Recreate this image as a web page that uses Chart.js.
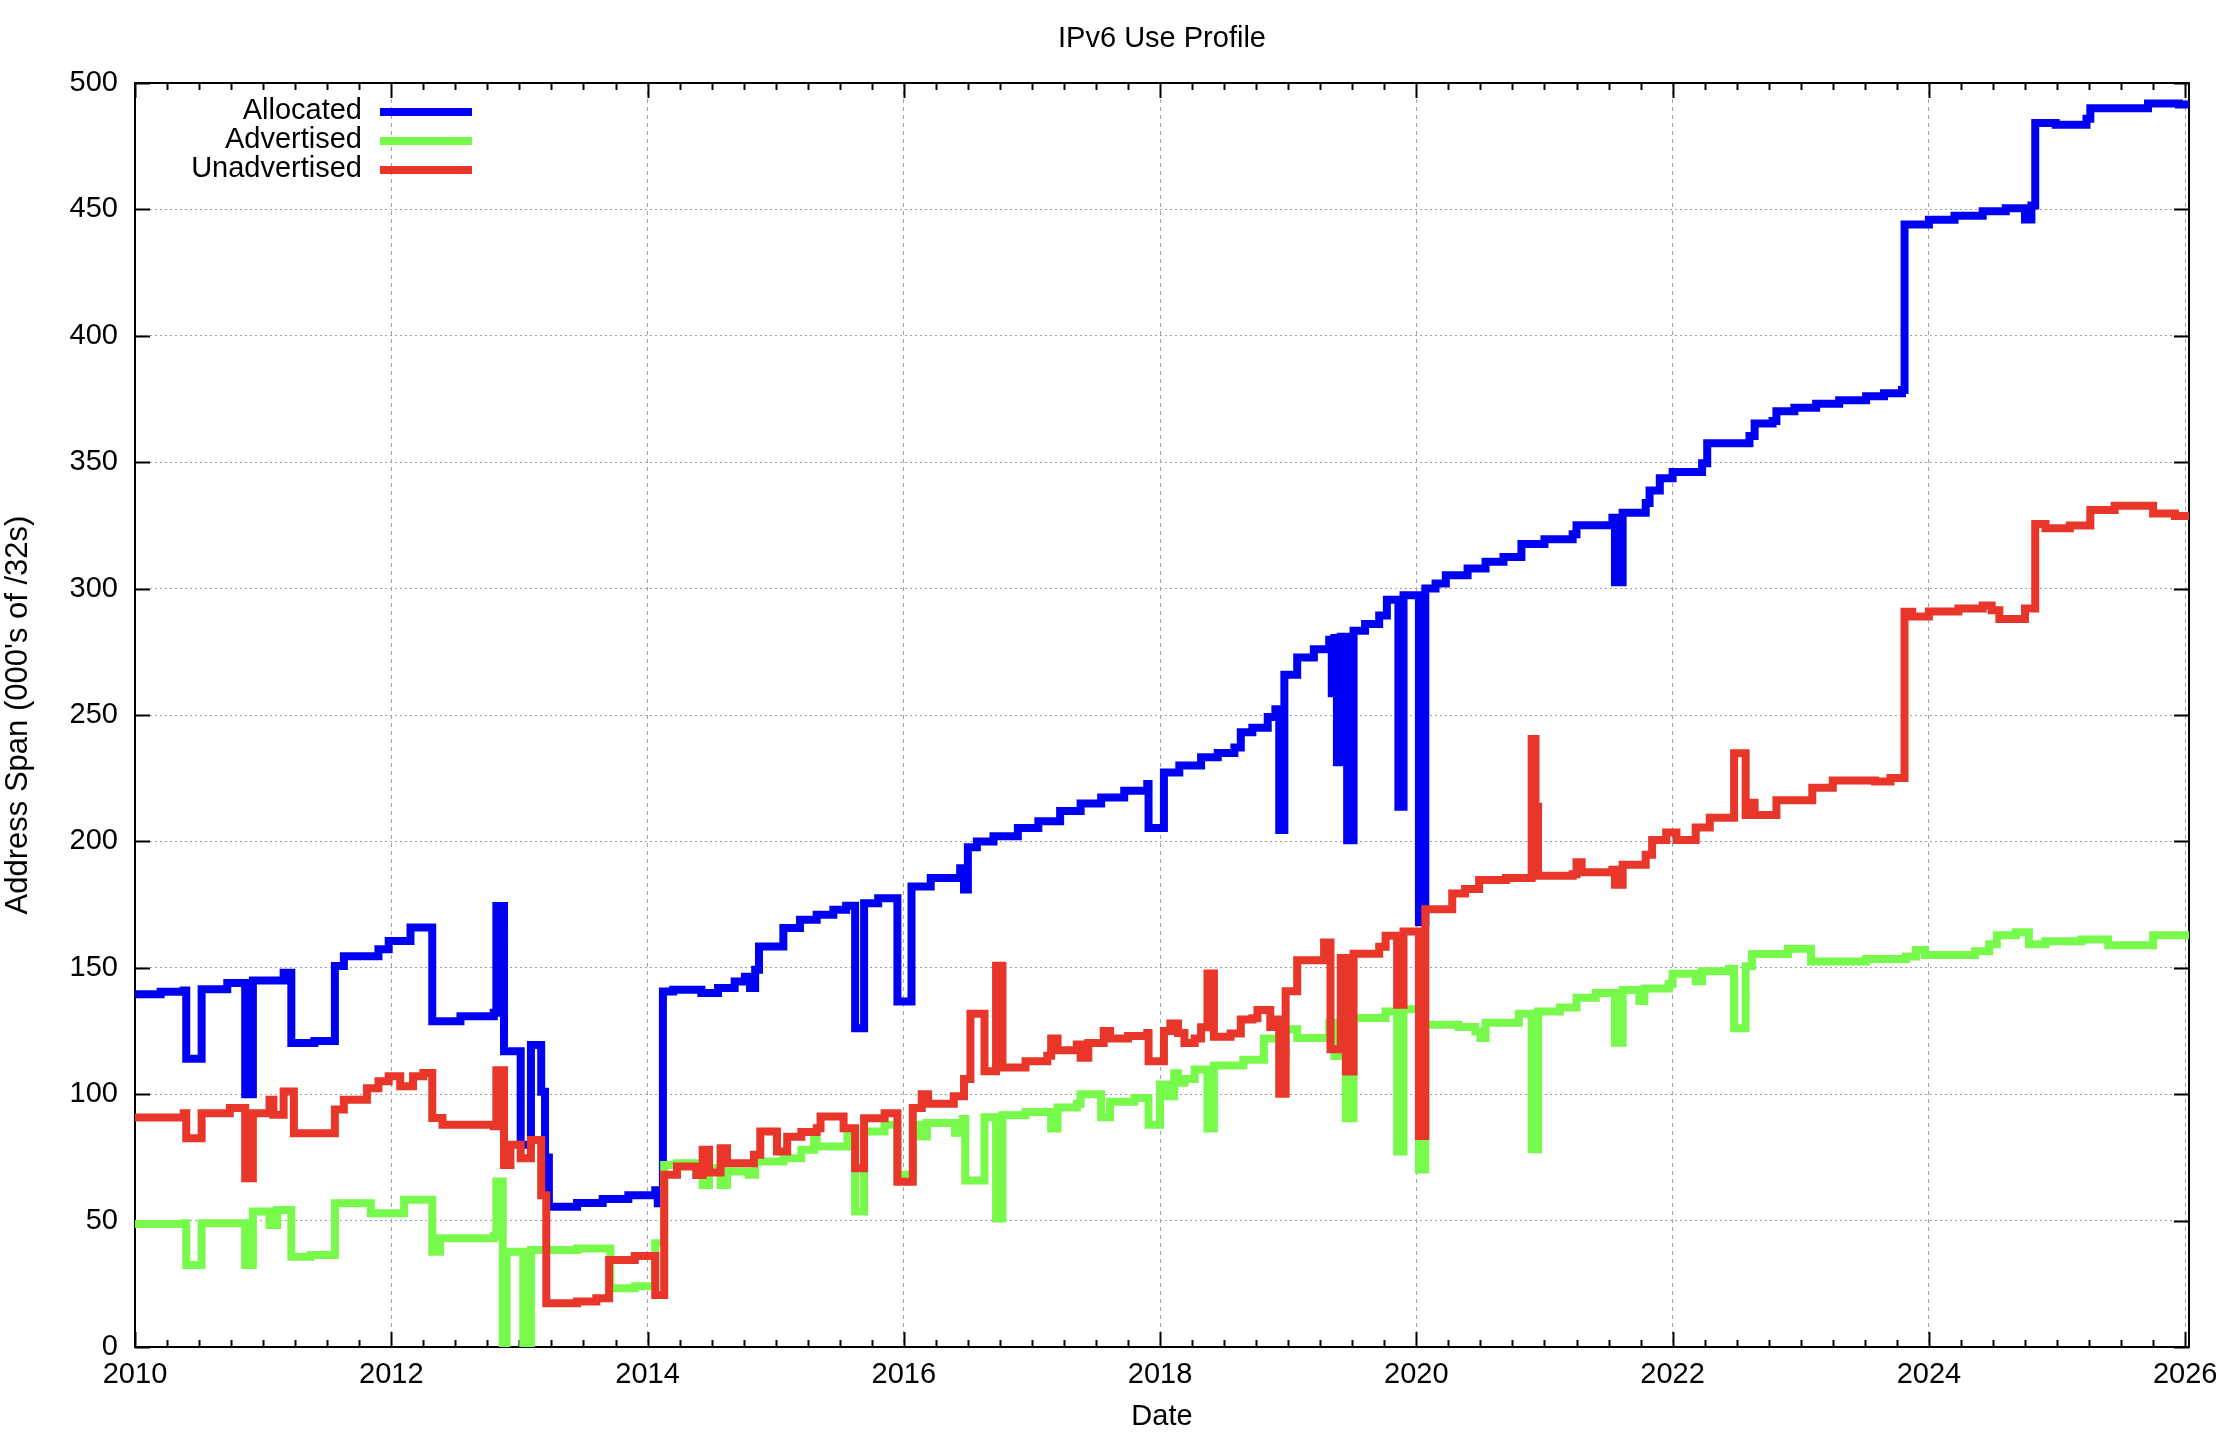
<!DOCTYPE html>
<html>
<head>
<meta charset="utf-8">
<title>IPv6 Use Profile</title>
<script src="https://cdn.jsdelivr.net/npm/chart.js@4.4.1/dist/chart.umd.min.js"></script>
<style>
  html, body { margin: 0; padding: 0; background: #fff; }
  canvas { display: block; }
</style>
</head>
<body>
<canvas id="myChart" width="2232" height="1434"></canvas>
<script>
// values, in decimal years and thousands of /32s
const allocDates = [2010.00,2010.20,2010.38,2010.40,2010.52,2010.72,2010.86,2010.92,2011.16,2011.22,2011.40,2011.56,2011.63,2011.90,2011.98,2012.15,2012.32,2012.54,2012.80,2012.82,2012.88,2013.01,2013.09,2013.17,2013.20,2013.23,2013.45,2013.65,2013.85,2014.06,2014.08,2014.12,2014.20,2014.42,2014.55,2014.68,2014.76,2014.80,2014.84,2014.87,2015.06,2015.19,2015.32,2015.45,2015.55,2015.62,2015.69,2015.80,2015.95,2016.06,2016.21,2016.44,2016.47,2016.50,2016.57,2016.70,2016.89,2017.05,2017.22,2017.38,2017.54,2017.72,2017.90,2017.91,2018.03,2018.15,2018.32,2018.45,2018.58,2018.63,2018.72,2018.84,2018.90,2018.93,2018.97,2019.07,2019.20,2019.32,2019.34,2019.36,2019.38,2019.41,2019.46,2019.51,2019.60,2019.71,2019.77,2019.86,2019.90,2020.02,2020.07,2020.15,2020.23,2020.40,2020.54,2020.68,2020.82,2021.00,2021.22,2021.25,2021.53,2021.55,2021.61,2021.79,2021.82,2021.90,2022.00,2022.23,2022.27,2022.60,2022.64,2022.78,2022.81,2022.95,2023.12,2023.30,2023.51,2023.65,2023.79,2023.81,2024.00,2024.20,2024.42,2024.60,2024.75,2024.80,2024.83,2024.99,2025.23,2025.26,2025.71,2025.95,2026.05];
const allocValues = [139.5,140.5,141,114,141.5,144,100,145,148,120.3,121,150.7,154.6,157.3,160.6,165.9,128.9,130.8,132.2,174.4,117,80,119.5,101,75,55.5,57,58.5,60,62,56.9,140.6,141.3,140,142,144.6,146.5,142,149.2,158.4,165.7,169,171,173,174.5,126.1,175.5,177.5,136.7,182.2,185.5,189.4,181,197.7,200,202,205.3,208,212,215,217.4,220,222.7,205.3,227.3,230,233.3,235,237.1,243.2,245,249.2,252.3,204.5,265.9,272.7,276,279.8,258.6,280.5,231.3,281,200.5,283.3,286,289.4,295.6,213.7,297.4,168,300,302,305.3,308,310.6,312.5,317.6,319.5,321.5,325.1,328,302.5,330,333.9,338.8,343.7,346.1,349.6,357.5,360.4,365.3,366.3,370.2,371.5,373.1,374.5,376.1,377.3,378.6,444,445.9,447.5,449.3,450.5,446,451.5,484.2,483.5,485.9,490,491.9,491.5,490.5];

const advDates = [2010.00,2010.38,2010.40,2010.52,2010.86,2010.92,2011.05,2011.11,2011.22,2011.37,2011.56,2011.84,2012.10,2012.32,2012.38,2012.80,2012.82,2012.87,2012.90,2013.03,2013.09,2013.45,2013.71,2013.90,2014.06,2014.13,2014.23,2014.42,2014.43,2014.48,2014.57,2014.62,2014.79,2014.84,2015.06,2015.20,2015.30,2015.32,2015.56,2015.62,2015.69,2015.85,2015.95,2016.07,2016.13,2016.18,2016.40,2016.46,2016.48,2016.63,2016.72,2016.77,2016.95,2017.15,2017.20,2017.35,2017.38,2017.54,2017.61,2017.80,2017.91,2018.00,2018.06,2018.11,2018.14,2018.19,2018.27,2018.37,2018.42,2018.65,2018.81,2018.93,2018.98,2019.07,2019.32,2019.36,2019.41,2019.45,2019.51,2019.76,2019.85,2019.90,2020.02,2020.07,2020.33,2020.46,2020.50,2020.54,2020.80,2020.90,2020.95,2021.12,2021.25,2021.40,2021.55,2021.61,2021.74,2021.78,2021.97,2022.00,2022.18,2022.23,2022.44,2022.48,2022.57,2022.62,2022.90,2023.08,2023.51,2023.82,2023.90,2023.97,2024.36,2024.47,2024.53,2024.68,2024.78,2024.91,2025.19,2025.40,2025.75,2026.05];
const advValues = [48.7,49,32.4,49,32.4,53.6,48.3,54.2,35.7,36.4,56.9,52.9,58.2,37.7,43,44,65.5,0,37.7,0,38.4,39,23.2,24,41,72,72.7,70.7,64.1,70.7,64.1,69.4,68.1,73.4,74.7,78,81.9,79.3,85.2,53.6,85.2,87.9,68.1,87.9,83.3,88.6,84.8,90.2,65.9,90.9,50.8,91.7,93,86.4,94.7,96.2,100,90.9,97,98.5,87.9,103.8,99.2,108.3,104.5,106,109.8,86.4,111.4,113.6,122,114.3,125.7,122.2,128.3,115.1,128.3,90.5,130.1,132.7,77.3,133.6,70.2,127.5,126.6,124.8,122.2,128.3,131.8,78.2,132.7,134.3,138.2,140,120.4,141.2,136.9,141.8,143.7,147.6,144.7,148.6,149.6,126.1,150.6,155.5,157.5,152.5,153.5,154.5,157,155.1,156.5,159.3,162.9,164.1,159.3,160.5,161.2,158.9,162.9,163.6];

const unadvDates = [2010.00,2010.38,2010.40,2010.52,2010.74,2010.86,2010.92,2011.05,2011.08,2011.16,2011.24,2011.56,2011.63,2011.81,2011.90,2011.98,2012.07,2012.17,2012.25,2012.32,2012.40,2012.80,2012.82,2012.88,2012.93,2013.01,2013.09,2013.17,2013.21,2013.45,2013.60,2013.70,2013.90,2014.06,2014.13,2014.23,2014.38,2014.43,2014.48,2014.57,2014.62,2014.83,2014.88,2015.01,2015.09,2015.20,2015.32,2015.35,2015.53,2015.62,2015.69,2015.85,2015.95,2016.07,2016.14,2016.19,2016.39,2016.47,2016.52,2016.63,2016.72,2016.77,2016.95,2017.12,2017.15,2017.20,2017.35,2017.38,2017.44,2017.56,2017.61,2017.75,2017.90,2017.91,2018.03,2018.08,2018.14,2018.19,2018.27,2018.32,2018.37,2018.42,2018.55,2018.63,2018.72,2018.76,2018.86,2018.90,2018.93,2018.98,2019.07,2019.28,2019.33,2019.41,2019.45,2019.51,2019.71,2019.76,2019.85,2019.90,2020.02,2020.07,2020.28,2020.38,2020.49,2020.70,2020.90,2020.93,2020.95,2021.22,2021.25,2021.29,2021.53,2021.55,2021.61,2021.79,2021.84,2021.95,2022.03,2022.18,2022.29,2022.48,2022.57,2022.62,2022.64,2022.81,2023.09,2023.25,2023.58,2023.70,2023.81,2023.87,2024.00,2024.23,2024.42,2024.49,2024.55,2024.75,2024.83,2024.91,2025.10,2025.26,2025.45,2025.75,2025.92,2026.05];
const unadvValues = [90.8,92.5,82.6,92.5,94.5,66.8,92.5,97.8,91.9,101.1,84.6,93.9,97.8,102.4,105.1,107.1,103.1,107.1,108.4,90.6,87.9,87.3,109.5,72,80,74.7,81.9,60,17.3,18,19.3,34.4,36,20.6,68.1,71.4,68,78,69,78.6,72.7,76,85.2,77.3,83.2,85,86.5,91.2,86.5,70.7,90.5,92.5,65.4,94.5,100,96.2,99.2,106,131.8,109.1,150.8,110.6,113,115.2,122,117.4,119.7,114.4,120.3,125,122,123,124.2,113,125,128,124.2,120.3,122,126.5,147.7,122.7,124,129.5,130,133.3,126.6,129.5,100.2,140.7,153,160,117.8,153.9,109,155.6,158.3,162.7,135.4,164.4,83.5,173.2,179.4,181.2,184.7,185.5,240.5,213.7,186.4,187,191.8,187.8,188.8,182.9,190.8,194.7,200.6,203.5,200.6,205.5,209.4,234.9,210.4,215.3,210.4,216.3,221.2,224.1,223.7,225.1,290.8,289,290.9,292.1,293.3,291.4,288,292.1,325.6,323.9,325,331.1,332.8,329.7,328.7,328.7];

const seriesNames = ['Allocated', 'Advertised', 'Unadvertised'];
const seriesColors = ['#0000f2', '#78fa4c', '#e8362a'];
const xTicks = [2010, 2012, 2014, 2016, 2018, 2020, 2022, 2024, 2026];
const yTicks = [0, 50, 100, 150, 200, 250, 300, 350, 400, 450, 500];

const FONT = '"Liberation Sans", Arial, Helvetica, sans-serif';
Chart.defaults.font.family = FONT;
Chart.defaults.color = '#000';

const toPoints = (xs, ys) => xs.map((x, i) => ({x: x, y: ys[i]}));

// gnuplot style box with inward ticks
const framePlugin = {
    id: 'frame',
    beforeDatasetsDraw(chart) {
        const {ctx, chartArea: a, scales: {x, y}} = chart;
        ctx.save();
        ctx.strokeStyle = '#000';
        ctx.lineWidth = 2;
        ctx.strokeRect(a.left, a.top, a.right - a.left, a.bottom - a.top);
        ctx.beginPath();
        for (let q = 0; q <= (xTicks[xTicks.length - 1] - xTicks[0]) * 4; q++) {
            const px = Math.round(x.getPixelForValue(xTicks[0] + q / 4)) + 0.5;
            const len = q % 8 === 0 ? 15 : 7;
            ctx.moveTo(px, a.bottom); ctx.lineTo(px, a.bottom - len);
            ctx.moveTo(px, a.top); ctx.lineTo(px, a.top + len);
        }
        yTicks.forEach(v => {
            const py = Math.round(y.getPixelForValue(v)) + 0.5;
            ctx.moveTo(a.left, py); ctx.lineTo(a.left + 15, py);
            ctx.moveTo(a.right, py); ctx.lineTo(a.right - 15, py);
        });
        ctx.stroke();
        ctx.restore();
    }
};

const keyPlugin = {
    id: 'key',
    afterDraw(chart) {
        const {ctx, chartArea: a} = chart;
        ctx.save();
        ctx.font = '29px ' + FONT;
        ctx.textAlign = 'right';
        ctx.textBaseline = 'middle';
        seriesNames.forEach((name, i) => {
            const yy = a.top + 29 + i * 29;
            ctx.fillStyle = '#000';
            ctx.fillText(name, a.left + 227, yy - 1);
            ctx.strokeStyle = seriesColors[i];
            ctx.lineWidth = 8;
            ctx.beginPath();
            ctx.moveTo(a.left + 245, yy);
            ctx.lineTo(a.left + 337, yy);
            ctx.stroke();
        });
        ctx.restore();
    }
};

const series = [
    toPoints(allocDates, allocValues),
    toPoints(advDates, advValues),
    toPoints(unadvDates, unadvValues)
];

var ctx = document.getElementById('myChart').getContext('2d');
var chart = new Chart(ctx, {
    type: 'line',
    data: {
        datasets: series.map((pts, i) => ({
            label: seriesNames[i],
            data: pts,
            borderColor: seriesColors[i],
            backgroundColor: seriesColors[i],
            borderWidth: 8,
            stepped: true,
            fill: false,
            pointRadius: 0,
            borderCapStyle: 'butt',
            borderJoinStyle: 'miter',
            order: 3 - i
        }))
    },
    options: {
        responsive: false,
        animation: false,
        devicePixelRatio: 1,
        layout: { padding: { left: 0, right: 43, top: 0, bottom: 0 } },
        plugins: {
            legend: { display: false },
            tooltip: { enabled: false },
            title: {
                display: true,
                text: 'IPv6 Use Profile',
                fullSize: false,
                color: '#000',
                font: { size: 29, weight: 'normal' },
                padding: { top: 22, bottom: 26.2 }
            }
        },
        scales: {
            x: {
                type: 'linear',
                min: 2010,
                max: 2026.03,
                afterBuildTicks: s => { s.ticks = xTicks.map(v => ({value: v})); },
                afterFit: s => { s.height = 87; },
                ticks: { padding: 11, font: { size: 29 }, color: '#000', maxRotation: 0, autoSkip: false, callback: v => String(v) },
                grid: { color: '#a0a0a0', lineWidth: 1, drawTicks: false },
                border: { display: false, dash: [4, 4] },
                title: { display: true, text: 'Date', color: '#000', font: { size: 29 }, padding: 0 }
            },
            y: {
                min: 0,
                max: 500,
                afterBuildTicks: s => { s.ticks = yTicks.map(v => ({value: v})); },
                afterFit: s => { s.width = 135; },
                ticks: { padding: 17, font: { size: 29 }, color: '#000', autoSkip: false, callback: v => String(v) },
                grid: { color: '#a0a0a0', lineWidth: 1, drawTicks: false },
                border: { display: false, dash: [2, 3] },
                title: { display: true, text: "Address Span (000's of /32s)", color: '#000', font: { size: 31 }, padding: 0 }
            }
        }
    },
    plugins: [framePlugin, keyPlugin]
});
</script>
</body>
</html>
